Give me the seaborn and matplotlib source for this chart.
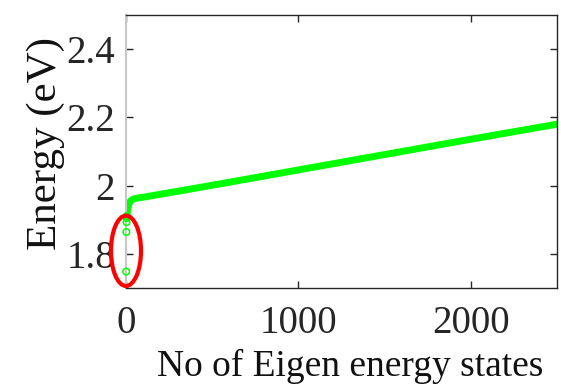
import numpy as np
import pandas as pd
import matplotlib
matplotlib.use("Agg")
import matplotlib.pyplot as plt
import seaborn as sns
from matplotlib.patches import Ellipse

# Sorted eigen-energies of the continuous band, sampled along the state index
states = [4, 6, 8, 12, 16, 22, 30, 45, 70, 100, 500, 1000, 1500, 2000, 2500]
energy = [1.905, 1.915, 1.925, 1.936, 1.945, 1.952, 1.957,
          1.961, 1.964, 1.966, 2.001, 2.046, 2.091, 2.136, 2.180]

# Isolated low-lying states
low_states = [1, 2, 3, 4, 5]
low_energy = [1.748, 1.864, 1.893, 1.905, 1.911]

xticks = [0, 1000, 2000]
yticks = [1.8, 2.0, 2.2, 2.4]
ytick_labels = ["1.8", "2", "2.2", "2.4"]

sns.set_theme(style="white")
plt.rcParams["font.family"] = ["Liberation Serif", "DejaVu Serif"]

fig = plt.figure(figsize=(5.61, 3.84), dpi=100)
ax = fig.add_axes([126 / 561, 1 - 288 / 384, 431 / 561, 273 / 384])

df = pd.DataFrame({"state": states, "energy": energy})
low = pd.DataFrame({"state": low_states, "energy": low_energy})

sns.lineplot(data=df, x="state", y="energy", ax=ax, color="#00ff00",
             linewidth=5, solid_capstyle="round")
sns.scatterplot(data=low, x="state", y="energy", ax=ax, marker="o",
                facecolor="none", edgecolor="#00ff00", linewidth=1.1, s=22,
                clip_on=False, zorder=4)

ax.add_patch(Ellipse((0, 1.809), width=174, height=0.206, fill=False,
                     edgecolor="#ff0000", linewidth=3, clip_on=False, zorder=5))

ax.set_xlim(0, 2500)
ax.set_ylim(1.7, 2.5)
ax.set_xticks(xticks)
ax.set_xticklabels([str(t) for t in xticks])
ax.set_yticks(yticks)
ax.set_yticklabels(ytick_labels)

ax.tick_params(axis="both", direction="in", length=5, width=1, colors="#262626",
               labelsize=28, top=True, right=True, bottom=True, left=True)
ax.tick_params(axis="y", pad=8)
ax.tick_params(axis="x", pad=12)
for side in ["top", "right", "bottom"]:
    ax.spines[side].set_color("#262626")
    ax.spines[side].set_linewidth(1)
ax.spines["left"].set_color("#c8c8c8")
ax.spines["left"].set_linewidth(1.5)

ax.set_xlabel("No of Eigen energy states", fontsize=27, color="#111111")
ax.set_ylabel("Energy (eV)", fontsize=31, color="#111111")
ax.xaxis.set_label_coords(0.52, -0.222)
ax.yaxis.set_label_coords(-0.141, 0.531)

fig.savefig("out.png", dpi=100)
